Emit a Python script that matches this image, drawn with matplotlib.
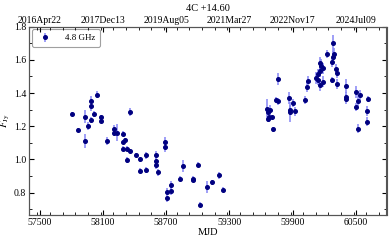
import numpy as np
import matplotlib
matplotlib.use("Agg")
import matplotlib.pyplot as plt
from matplotlib.ticker import MultipleLocator

plt.rcParams['font.family'] = ['Liberation Serif', 'DejaVu Serif']
plt.rcParams['mathtext.fontset'] = 'stix'

# 4C +14.60 light curve at 4.8 GHz
mjd = [57810, 57867, 57928, 57928, 57959, 57985, 57985, 57987, 58016, 58047,
       58079, 58079, 58142, 58202, 58202, 58233, 58293, 58312, 58293, 58293,
       58328, 58354, 58328, 58354, 58416, 58448, 58448, 58508, 58508, 58600,
       58600, 58600, 58624, 58688, 58688, 58710, 58710, 58745, 58745, 58836,
       58861, 58956, 58956, 59007, 59022, 59085, 59139, 59205, 59237,
       59656, 59665, 59684, 59675, 59667, 59703, 59713, 59760, 59741, 59760,
       59864, 59874, 59874, 59902, 59921, 60016, 60034, 60044, 60120, 60139,
       60145, 60155, 60164, 60171, 60186, 60157, 60186, 60228, 60280, 60290,
       60280, 60275, 60275, 60309, 60325, 60322, 60410, 60407, 60407, 60505,
       60536, 60521, 60498, 60612, 60602, 60602, 60521]
flux = [1.272, 1.178, 1.258, 1.111, 1.202, 1.351, 1.320, 1.238, 1.274, 1.390,
        1.254, 1.232, 1.113, 1.186, 1.161, 1.161, 1.154, 1.117, 1.105, 1.063,
        1.063, 1.049, 0.997, 1.284, 1.029, 1.001, 0.931, 1.025, 0.937, 1.027,
        0.993, 0.965, 0.923, 1.104, 1.073, 0.806, 0.766, 0.845, 0.812, 0.883,
        0.961, 0.883, 0.877, 0.967, 0.728, 0.833, 0.863, 0.905, 0.816,
        1.302, 1.288, 1.296, 1.254, 1.244, 1.254, 1.181, 1.483, 1.358, 1.351,
        1.369, 1.296, 1.288, 1.342, 1.289, 1.358, 1.439, 1.475, 1.489, 1.479,
        1.513, 1.535, 1.580, 1.565, 1.549, 1.449, 1.469, 1.634, 1.700, 1.636,
        1.619, 1.589, 1.479, 1.545, 1.519, 1.457, 1.443, 1.377, 1.367, 1.407,
        1.387, 1.354, 1.316, 1.364, 1.294, 1.228, 1.186]
ferr = [0.012, 0.010, 0.040, 0.040, 0.025, 0.030, 0.030, 0.020, 0.020, 0.020,
        0.015, 0.015, 0.025, 0.020, 0.020, 0.050, 0.015, 0.015, 0.015, 0.015,
        0.015, 0.012, 0.020, 0.025, 0.010, 0.015, 0.015, 0.020, 0.020, 0.025,
        0.020, 0.020, 0.020, 0.030, 0.030, 0.020, 0.020, 0.025, 0.025, 0.015,
        0.035, 0.015, 0.015, 0.015, 0.015, 0.035, 0.015, 0.020, 0.015,
        0.060, 0.020, 0.030, 0.030, 0.020, 0.015, 0.015, 0.035, 0.020, 0.020,
        0.035, 0.030, 0.060, 0.025, 0.025, 0.025, 0.030, 0.025, 0.035, 0.030,
        0.030, 0.040, 0.040, 0.040, 0.035, 0.035, 0.035, 0.025, 0.050, 0.035,
        0.035, 0.030, 0.020, 0.030, 0.030, 0.030, 0.040, 0.030, 0.030, 0.035,
        0.030, 0.035, 0.025, 0.020, 0.030, 0.025, 0.025]

xticks = [57500, 58100, 58700, 59300, 59900, 60500]
date_labels = ['2016Apr22', '2017Dec13', '2019Aug05', '2021Mar27', '2022Nov17', '2024Jul09']

fig = plt.figure(figsize=(3.89, 2.4), dpi=100)
ax = fig.add_axes([29/389, 25/240, 357.5/389, 188.3/240])

ax.errorbar(mjd, flux, yerr=ferr, fmt='o', ms=2.6, color='#000080',
            ecolor='#8585f5', elinewidth=1.1, capsize=0, label='4.8 GHz')

ax.set_xlim(57400, 60790)
ax.set_ylim(0.665, 1.8)
ax.set_xticks(xticks)
ax.xaxis.set_minor_locator(MultipleLocator(120))
ax.yaxis.set_major_locator(MultipleLocator(0.2))
ax.yaxis.set_minor_locator(MultipleLocator(0.1))
ax.tick_params(which='both', direction='in', right=True, labelsize=7, pad=2)
ax.tick_params(which='major', length=3.5)
ax.tick_params(which='minor', length=2)
ax.set_xlabel('MJD', fontsize=7.5, labelpad=1)
ax.set_ylabel(r'$F_{\rm Jy}$', fontsize=7.5, labelpad=1)

top = ax.twiny()
top.set_xlim(ax.get_xlim())
top.set_xticks(xticks)
top.set_xticklabels(date_labels)
top.xaxis.set_minor_locator(MultipleLocator(120))
top.tick_params(which='both', direction='in', labelsize=7, pad=1.5)
top.tick_params(which='major', length=3.5)
top.tick_params(which='minor', length=2)
top.set_title('4C +14.60', fontsize=7.5, pad=3.5)

for a in (ax, top):
    for s in a.spines.values():
        s.set_color('#555555')
        s.set_linewidth(0.8)

leg = ax.legend(loc='upper left', fontsize=6.5, frameon=True, fancybox=True,
                borderpad=0.5, handletextpad=1.2, borderaxespad=0.3)
leg.get_frame().set_edgecolor('#888888')
leg.get_frame().set_linewidth(0.8)

fig.savefig('out.png', dpi=100)
